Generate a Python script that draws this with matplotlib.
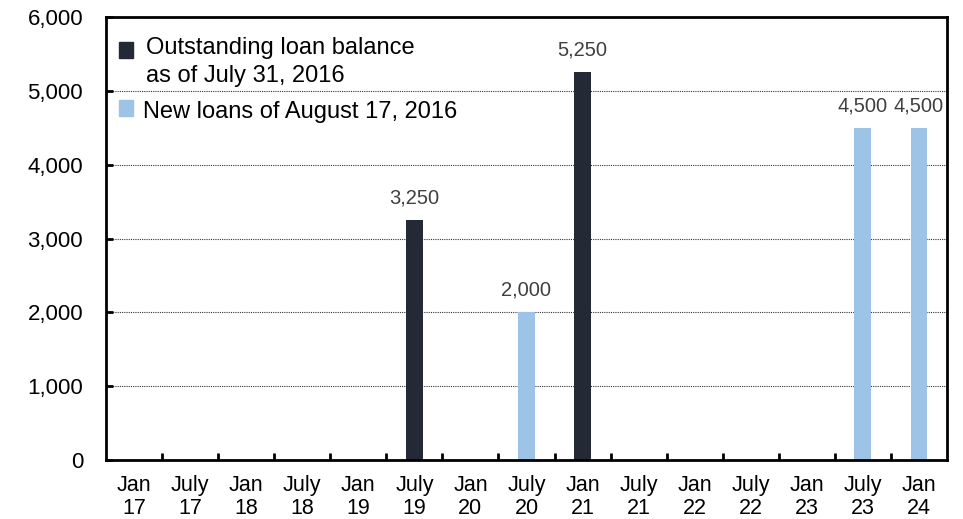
import matplotlib
matplotlib.use("Agg")
import matplotlib.pyplot as plt
import numpy as np
from matplotlib.patches import Rectangle

plt.rcParams['font.family'] = ['Liberation Sans', 'DejaVu Sans']

categories = ["Jan\n17", "July\n17", "Jan\n18", "July\n18", "Jan\n19", "July\n19", "Jan\n20",
              "July\n20", "Jan\n21", "July\n21", "Jan\n22", "July\n22", "Jan\n23", "July\n23", "Jan\n24"]
outstanding = [0, 0, 0, 0, 0, 3250, 0, 0, 5250, 0, 0, 0, 0, 0, 0]
new_loans = [0, 0, 0, 0, 0, 0, 0, 2000, 0, 0, 0, 0, 0, 4500, 4500]
yticks = [0, 1000, 2000, 3000, 4000, 5000, 6000]

dark = "#232a35"
light = "#9dc3e6"

fig = plt.figure(figsize=(9.63, 5.19), dpi=100)
ax = fig.add_axes([106/963, 1-460/519, 841/963, 443/519])

x = np.arange(len(categories))
ax.bar(x, outstanding, width=0.3, color=dark, zorder=3)
ax.bar(x, new_loans, width=0.3, color=light, zorder=3)

for xi, v1, v2 in zip(x, outstanding, new_loans):
    v = max(v1, v2)
    if v > 0:
        ax.annotate(f"{v:,}", (xi, v), xytext=(0, 12), textcoords="offset points",
                    ha="center", va="baseline", fontsize=14.5, color="#404040")

ax.set_xlim(-0.5, len(categories) - 0.5)
ax.set_ylim(0, 6000)
ax.set_yticks(yticks)
ax.set_yticklabels([f"{t:,}" for t in yticks], fontsize=16)
ax.set_xticks(x)
ax.set_xticklabels(categories, fontsize=15.5, linespacing=1.08)
ax.tick_params(axis="x", length=0, pad=11)
ax.set_xticks(np.arange(0.5, len(categories) - 1, 1), minor=True)
ax.tick_params(axis="x", which="minor", direction="in", length=5, width=2)
ax.tick_params(axis="y", direction="in", length=5, width=2, pad=16.5)
ax.yaxis.grid(True, linestyle=(0, (1, 1)), color="#333333", linewidth=0.8, zorder=0)
for s in ax.spines.values():
    s.set_linewidth(2)
    s.set_zorder(4)

# legend drawn manually (offsets in pixels from the axes' top-left corner)
W, H = 841, 443
ax.add_patch(Rectangle((13/W, 1-41/H), 14/W, 16/H, transform=ax.transAxes,
                       color=dark, clip_on=False, zorder=5))
ax.add_patch(Rectangle((13/W, 1-99/H), 14/W, 16/H, transform=ax.transAxes,
                       color=light, clip_on=False, zorder=5))
ax.text(40/W, 1-37/H, "Outstanding loan balance", transform=ax.transAxes,
        fontsize=17, va="baseline", ha="left")
ax.text(40/W, 1-65/H, "as of July 31, 2016", transform=ax.transAxes,
        fontsize=17, va="baseline", ha="left")
ax.text(37/W, 1-101/H, "New loans of August 17, 2016", transform=ax.transAxes,
        fontsize=17, va="baseline", ha="left")

fig.savefig("out.png", dpi=100)
